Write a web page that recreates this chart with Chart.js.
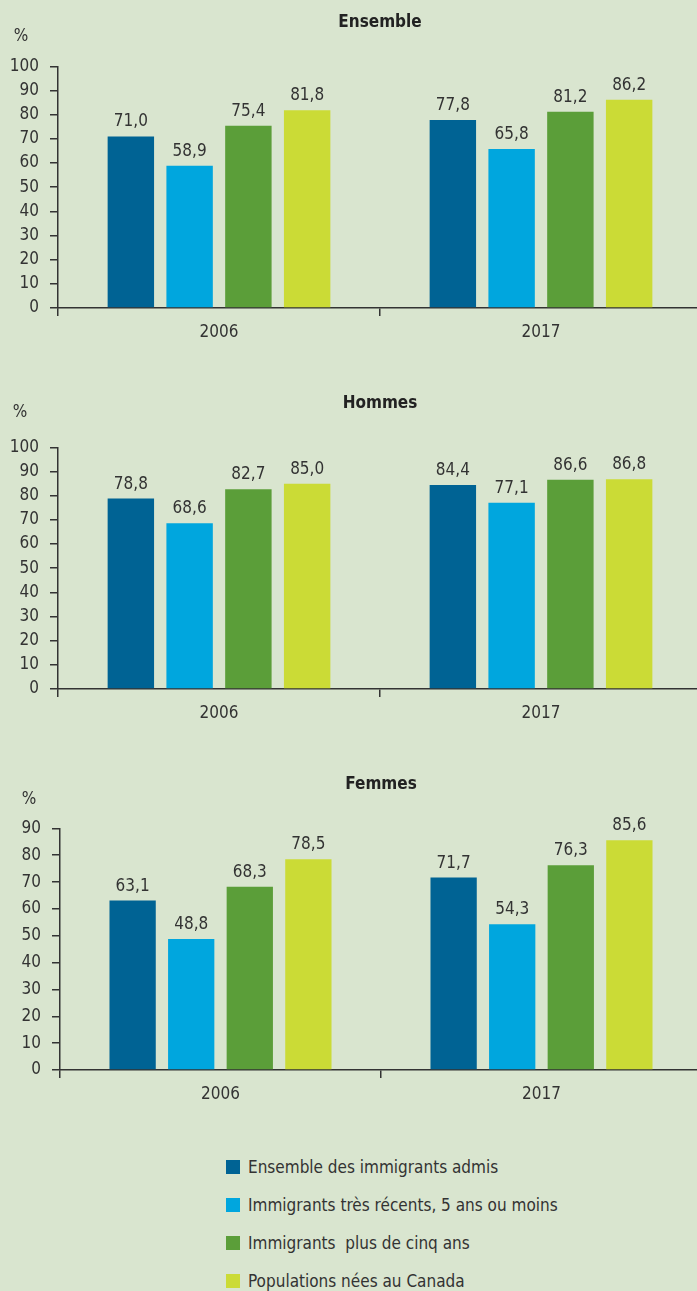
<!DOCTYPE html>
<html lang="fr">
<head>
<meta charset="utf-8">
<script src="https://cdn.jsdelivr.net/npm/chart.js@4.4.0/dist/chart.umd.min.js"></script>
<style>
  html, body { margin: 0; padding: 0; background: #d9e5cf; overflow: hidden; width: 697px; height: 1291px; }
  .panneau { position: absolute; left: 0; width: 702px; height: 381px; }
  #legende { position: absolute; left: 226px; top: 1148px; font: 17px "Liberation Sans Narrow", "DejaVu Sans Condensed", sans-serif; color: #333; }
  .item { height: 38px; display: flex; align-items: center; white-space: pre; }
  .carre { width: 14px; height: 14px; margin-right: 8px; }
</style>
</head>
<body>
<div class="panneau" style="top:0px"><canvas id="ensemble" width="702" height="381"></canvas></div>
<div class="panneau" style="top:381px"><canvas id="hommes" width="702" height="381"></canvas></div>
<div class="panneau" style="top:762px"><canvas id="femmes" width="702" height="381"></canvas></div>
<div id="legende"></div>

<script>
var annees = ['2006', '2017'];
var series = ['Ensemble des immigrants admis', 'Immigrants très récents, 5 ans ou moins', 'Immigrants  plus de cinq ans', 'Populations nées au Canada'];
var couleurs = ['#006394', '#00a6de', '#5b9e39', '#cbdb36'];

// Ensemble
var ensembleAdmis = [71.0, 77.8];
var ensembleRecents = [58.9, 65.8];
var ensemblePlus5 = [75.4, 81.2];
var ensembleNes = [81.8, 86.2];
// Hommes
var hommesAdmis = [78.8, 84.4];
var hommesRecents = [68.6, 77.1];
var hommesPlus5 = [82.7, 86.6];
var hommesNes = [85.0, 86.8];
// Femmes
var femmesAdmis = [63.1, 71.7];
var femmesRecents = [48.8, 54.3];
var femmesPlus5 = [68.3, 76.3];
var femmesNes = [78.5, 85.6];

var police = '"Liberation Sans Narrow", "DejaVu Sans Condensed", sans-serif';
var texte = '#333';

// valeurs au-dessus des barres + le "%"
var etiquettes = {
  id: 'etiquettes',
  afterDatasetsDraw: function(chart, args, opts) {
    var ctx = chart.ctx;
    ctx.save();
    ctx.font = '17px ' + police;
    ctx.fillStyle = texte;
    ctx.textAlign = 'center';
    ctx.textBaseline = 'alphabetic';
    chart.data.datasets.forEach(function(ds, i) {
      chart.getDatasetMeta(i).data.forEach(function(barre, j) {
        ctx.fillText(ds.data[j].toFixed(1).replace('.', ','), barre.x, barre.y - 10);
      });
    });
    ctx.textBaseline = 'middle';
    ctx.fillText('%', opts.pctX, opts.pctY);
    ctx.restore();
  }
};

function graphique(id, titre, donnees, max, gauche, pctX, pctY) {
  var jeux = [];
  for (var i = 0; i < series.length; i++) {
    jeux.push({
      label: series[i],
      data: donnees[i],
      backgroundColor: couleurs[i],
      categoryPercentage: 0.73,
      barPercentage: 0.79
    });
  }
  return new Chart(document.getElementById(id), {
    type: 'bar',
    data: { labels: annees, datasets: jeux },
    plugins: [etiquettes],
    options: {
      responsive: false,
      animation: false,
      layout: { padding: 0 },
      plugins: {
        legend: { display: false },
        tooltip: { enabled: false },
        title: {
          display: true,
          text: titre,
          fullSize: false,
          color: '#222',
          font: { family: police, size: 17, weight: 'bold' },
          padding: { top: 12, bottom: 34 }
        },
        etiquettes: { pctX: pctX, pctY: pctY }
      },
      scales: {
        x: {
          grid: { drawOnChartArea: false, tickLength: 8, color: texte, lineWidth: 1.5, offset: true },
          border: { color: texte, width: 1.5 },
          ticks: { color: texte, font: { family: police, size: 17 }, padding: 6 },
          afterFit: function(s) { s.height = 73; }
        },
        y: {
          min: 0,
          max: max,
          ticks: { stepSize: 10, autoSkip: false, color: texte, font: { family: police, size: 17 }, padding: 11 },
          grid: { drawOnChartArea: false, tickLength: 8, color: texte, lineWidth: 1.5 },
          border: { color: texte, width: 1.5 },
          afterFit: function(s) { s.width = gauche; }
        }
      }
    }
  });
}

graphique('ensemble', 'Ensemble', [ensembleAdmis, ensembleRecents, ensemblePlus5, ensembleNes], 100, 58, 21, 37);
graphique('hommes', 'Hommes', [hommesAdmis, hommesRecents, hommesPlus5, hommesNes], 100, 58, 20, 32);
graphique('femmes', 'Femmes', [femmesAdmis, femmesRecents, femmesPlus5, femmesNes], 90, 60, 29, 38);

// légende
var legende = document.getElementById('legende');
series.forEach(function(nom, i) {
  var item = document.createElement('div');
  item.className = 'item';
  var carre = document.createElement('span');
  carre.className = 'carre';
  carre.style.background = couleurs[i];
  var etiquette = document.createElement('span');
  etiquette.textContent = nom;
  item.appendChild(carre);
  item.appendChild(etiquette);
  legende.appendChild(item);
});
</script>
</body>
</html>
